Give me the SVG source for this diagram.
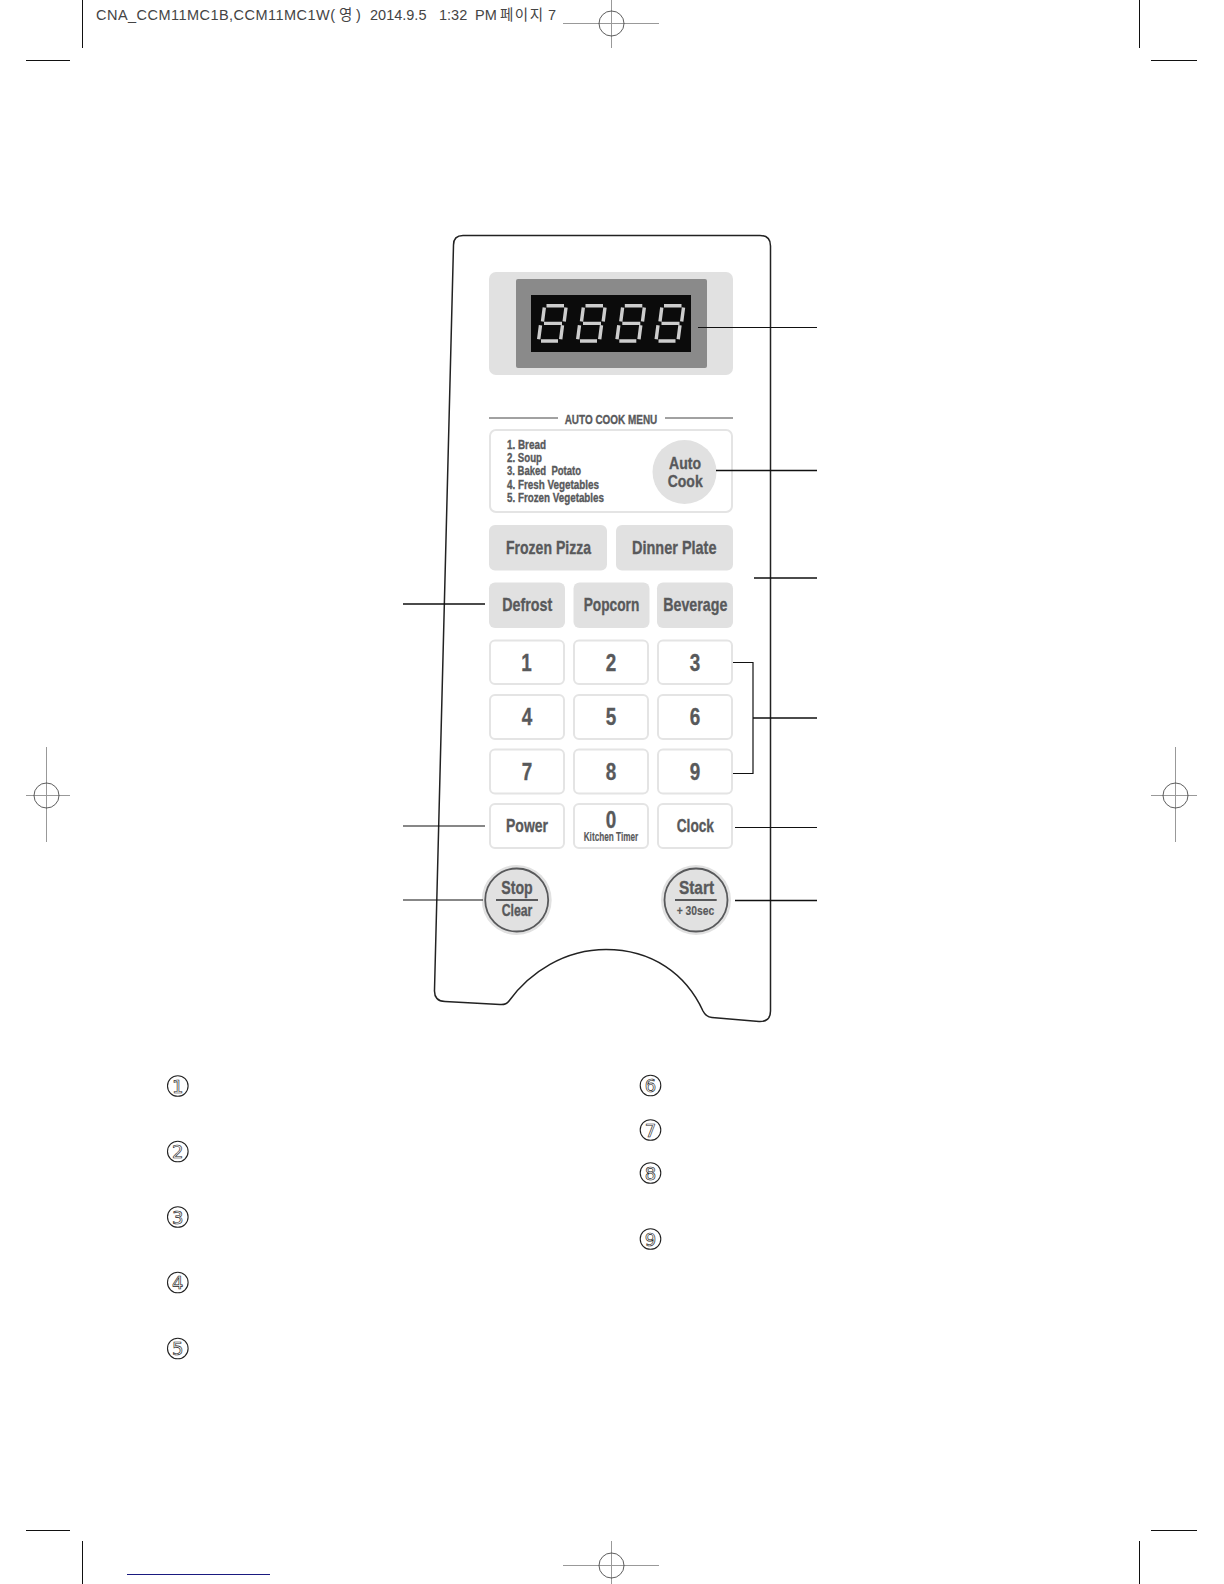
<svg xmlns="http://www.w3.org/2000/svg" width="1224" height="1584" viewBox="0 0 1224 1584">
<style>
.lb{font-family:"Liberation Sans",Arial,sans-serif;font-weight:700;fill:#58595b;stroke:#58595b;stroke-width:.35}
.f19{font-size:19px}.f24{font-size:24.5px}.f21{font-size:19px}.f17{font-size:17px}.f12{font-size:12.5px}
.solid{fill:#e1e1e1}
.out{fill:#fff;stroke:#e4e4e4;stroke-width:2}
.mark{stroke:#111;stroke-width:1;fill:none}
.reg{stroke:#999;stroke-width:1;fill:none}
.regc{stroke:#333;stroke-width:.8;fill:none}
.conn{stroke:#111;stroke-width:1.2;fill:none}
.conn2{stroke:#111;stroke-width:1.7;fill:none}
.num{font-family:"DejaVu Sans",sans-serif;font-size:18px;fill:#fff;stroke:#222;stroke-width:.65;text-anchor:middle}
.numc{fill:#fff;stroke:#222;stroke-width:1.100}
.seg{fill:none;stroke:#cdcdcd;stroke-width:3.400}
</style>
<defs>
<g id="reg"><circle class="regc" r="12.5"/></g>
<path id="digit" class="seg" d="M10 1.800H27.500M7.800 3.500L6 17.500M29.500 3.500L27.700 17.500M7.500 19.400H25.500M4 21.300L2.200 35.300M26 21.300L24.200 35.300M4.500 37H21.500"/>
</defs>
<rect width="1224" height="1584" fill="#fff"/>

<g id="print-marks">
<text x="96" y="20" font-family="'Liberation Sans','Noto Sans CJK KR',sans-serif" font-size="14.500" fill="#444"><tspan textLength="239" lengthAdjust="spacing">CNA_CCM11MC1B,CCM11MC1W(</tspan><tspan x="339">영</tspan><tspan x="356">)</tspan><tspan x="370">2014.9.5</tspan><tspan x="439">1:32</tspan><tspan x="475">PM</tspan><tspan x="500" textLength="43" lengthAdjust="spacing">페이지</tspan><tspan x="548">7</tspan></text>
<path class="mark" d="M82.500 0V48M26 60.500H70M1139.500 0V48M1151 60.500H1197M26 1530.500H70M82.500 1541V1584M1151 1530.500H1197M1139.500 1541V1584"/>
<path class="reg" d="M563 23.500H659M611.500 0V48M26 795.500H70M46.500 747V842M1151 795.500H1197M1175.500 747V842M563 1565.500H659M611.500 1541V1584"/>
<use href="#reg" x="611.500" y="23.500"/><use href="#reg" x="46.500" y="795.500"/><use href="#reg" x="1175.500" y="795.500"/><use href="#reg" x="611.500" y="1565.500"/>
<path d="M127 1574.500H270" stroke="#1a1a80" stroke-width="1" fill="none"/>
</g>

<g id="panel"><path d="M463 235.500H760Q770.500 235.500 770.500 246V1011Q770.500 1022 759 1021.500L712 1017.500Q706 1017 703 1011C686 974 652 949.500 606 949.500C565 949.500 530 972 509 1001Q506 1005 500 1004.500L445 1001.500Q434 1001 434.500 990L453.500 245Q453.500 235.500 463 235.500Z" fill="#fff" stroke="#222" stroke-width="1.500"/></g>

<g id="display">
<rect class="solid" x="489" y="272" width="244" height="103" rx="7"/>
<rect x="516" y="279" width="191" height="89" rx="2" fill="#8a8a8a"/>
<rect x="531" y="295" width="160" height="57" fill="#0b0b0b"/>
<use href="#digit" x="536.500" y="304"/><use href="#digit" x="575.500" y="304"/><use href="#digit" x="614.800" y="304"/><use href="#digit" x="654" y="304"/>
</g>

<g id="auto-cook-menu">
<path d="M489 418H558M665 418H733" stroke="#444" stroke-width="1" fill="none"/>
<text class="lb" x="564.700" y="424" font-size="13.500" textLength="92.600" lengthAdjust="spacingAndGlyphs">AUTO COOK MENU</text>
<rect class="out" x="490" y="430" width="242" height="82" rx="6"/>
<text class="lb f12" x="507" y="449" textLength="39" lengthAdjust="spacingAndGlyphs">1. Bread</text>
<text class="lb f12" x="507" y="462" textLength="35" lengthAdjust="spacingAndGlyphs">2. Soup</text>
<text class="lb f12" x="507" y="475.300" textLength="74" lengthAdjust="spacingAndGlyphs" xml:space="preserve">3. Baked  Potato</text>
<text class="lb f12" x="507" y="488.600" textLength="92" lengthAdjust="spacingAndGlyphs">4. Fresh Vegetables</text>
<text class="lb f12" x="507" y="502" textLength="97" lengthAdjust="spacingAndGlyphs">5. Frozen Vegetables</text>
</g>
<g id="btn-auto-cook"><circle class="solid" cx="684.500" cy="472" r="32"/>
<text class="lb f17" x="669" y="469" textLength="32" lengthAdjust="spacingAndGlyphs">Auto</text>
<text class="lb f17" x="667.700" y="487.200" textLength="35" lengthAdjust="spacingAndGlyphs">Cook</text></g>

<g id="btn-frozen-pizza"><rect class="solid" x="489" y="525" width="118" height="45.500" rx="6"/><text class="lb f19" x="506" y="554.300" textLength="85" lengthAdjust="spacingAndGlyphs">Frozen Pizza</text></g>
<g id="btn-dinner-plate"><rect class="solid" x="616" y="525" width="117" height="45.500" rx="6"/><text class="lb f19" x="632" y="554.300" textLength="84.500" lengthAdjust="spacingAndGlyphs">Dinner Plate</text></g>
<g id="btn-defrost"><rect class="solid" x="489" y="582.500" width="76" height="45.500" rx="6"/><text class="lb f19" x="502.300" y="611" textLength="50" lengthAdjust="spacingAndGlyphs">Defrost</text></g>
<g id="btn-popcorn"><rect class="solid" x="573.500" y="582.500" width="76" height="45.500" rx="6"/><text class="lb f19" x="583.700" y="611" textLength="55.600" lengthAdjust="spacingAndGlyphs">Popcorn</text></g>
<g id="btn-beverage"><rect class="solid" x="657" y="582.500" width="76" height="45.500" rx="6"/><text class="lb f19" x="663.300" y="611" textLength="64" lengthAdjust="spacingAndGlyphs">Beverage</text></g>

<g id="btn-1"><rect class="out" x="490" y="640.500" width="74" height="43.500" rx="5"/><text class="lb f24" x="521.300" y="671" textLength="10.500" lengthAdjust="spacingAndGlyphs">1</text></g>
<g id="btn-2"><rect class="out" x="574" y="640.500" width="74" height="43.500" rx="5"/><text class="lb f24" x="605.700" y="671" textLength="10.500" lengthAdjust="spacingAndGlyphs">2</text></g>
<g id="btn-3"><rect class="out" x="658" y="640.500" width="74" height="43.500" rx="5"/><text class="lb f24" x="689.700" y="671" textLength="10.500" lengthAdjust="spacingAndGlyphs">3</text></g>
<g id="btn-4"><rect class="out" x="490" y="695" width="74" height="44" rx="5"/><text class="lb f24" x="521.700" y="725" textLength="10.500" lengthAdjust="spacingAndGlyphs">4</text></g>
<g id="btn-5"><rect class="out" x="574" y="695" width="74" height="44" rx="5"/><text class="lb f24" x="605.700" y="725" textLength="10.500" lengthAdjust="spacingAndGlyphs">5</text></g>
<g id="btn-6"><rect class="out" x="658" y="695" width="74" height="44" rx="5"/><text class="lb f24" x="689.700" y="725" textLength="10.500" lengthAdjust="spacingAndGlyphs">6</text></g>
<g id="btn-7"><rect class="out" x="490" y="749.500" width="74" height="44" rx="5"/><text class="lb f24" x="521.700" y="779.500" textLength="10.500" lengthAdjust="spacingAndGlyphs">7</text></g>
<g id="btn-8"><rect class="out" x="574" y="749.500" width="74" height="44" rx="5"/><text class="lb f24" x="605.700" y="779.500" textLength="10.500" lengthAdjust="spacingAndGlyphs">8</text></g>
<g id="btn-9"><rect class="out" x="658" y="749.500" width="74" height="44" rx="5"/><text class="lb f24" x="689.700" y="779.500" textLength="10.500" lengthAdjust="spacingAndGlyphs">9</text></g>

<g id="btn-power"><rect class="out" x="490" y="804" width="74" height="44" rx="5"/><text class="lb f19" x="506" y="832.300" textLength="42" lengthAdjust="spacingAndGlyphs">Power</text></g>
<g id="btn-0"><rect class="out" x="574" y="804" width="74" height="44" rx="5"/><text class="lb f24" x="605.700" y="827.700" textLength="10.500" lengthAdjust="spacingAndGlyphs">0</text><text class="lb" x="583.700" y="841.300" font-size="12.500" textLength="54.600" lengthAdjust="spacingAndGlyphs" style="stroke-width:.15">Kitchen Timer</text></g>
<g id="btn-clock"><rect class="out" x="658" y="804" width="74" height="44" rx="5"/><text class="lb f19" x="676.700" y="832" textLength="37.300" lengthAdjust="spacingAndGlyphs">Clock</text></g>

<g id="btn-stop"><circle class="solid" cx="516.700" cy="900" r="35"/><circle cx="516.700" cy="900" r="31.500" fill="#e1e1e1" stroke="#58595b" stroke-width="1.800"/>
<text class="lb f21" x="501.300" y="894.300" textLength="31.400" lengthAdjust="spacingAndGlyphs">Stop</text>
<path d="M496 900H538" stroke="#58595b" stroke-width="1.800"/>
<text class="lb" x="501.700" y="916" font-size="16" textLength="30.600" lengthAdjust="spacingAndGlyphs">Clear</text></g>
<g id="btn-start"><circle class="solid" cx="696" cy="900" r="35"/><circle cx="696" cy="900" r="31.500" fill="#e1e1e1" stroke="#58595b" stroke-width="1.800"/>
<text class="lb f21" x="679" y="894.300" textLength="35" lengthAdjust="spacingAndGlyphs">Start</text>
<path d="M675 900H716.700" stroke="#58595b" stroke-width="1.800"/>
<text class="lb" x="676.700" y="915" font-size="13.500" textLength="37.600" lengthAdjust="spacingAndGlyphs" style="stroke-width:.15">+ 30sec</text></g>

<g id="connectors">
<path class="conn" d="M698 327.500H817M403 826H485M735 827.500H817M403 900H483M733 662.500H753V773.500H733"/>
<path class="conn2" d="M716 470.500H817M754 578H817M403 604H485M753 718H817M735 900.500H817"/>
</g>

<g id="n1"><circle class="numc" cx="177.800" cy="1086" r="10.300"/><text class="num" x="177.800" y="1092.500">1</text></g>
<g id="n2"><circle class="numc" cx="177.800" cy="1151.500" r="10.300"/><text class="num" x="177.800" y="1158">2</text></g>
<g id="n3"><circle class="numc" cx="177.800" cy="1217" r="10.300"/><text class="num" x="177.800" y="1223.500">3</text></g>
<g id="n4"><circle class="numc" cx="177.800" cy="1282.500" r="10.300"/><text class="num" x="177.800" y="1289">4</text></g>
<g id="n5"><circle class="numc" cx="177.800" cy="1348.500" r="10.300"/><text class="num" x="177.800" y="1355">5</text></g>
<g id="n6"><circle class="numc" cx="650.500" cy="1085.500" r="10.300"/><text class="num" x="650.500" y="1092">6</text></g>
<g id="n7"><circle class="numc" cx="650.500" cy="1130" r="10.300"/><text class="num" x="650.500" y="1136.500">7</text></g>
<g id="n8"><circle class="numc" cx="650.500" cy="1173" r="10.300"/><text class="num" x="650.500" y="1179.500">8</text></g>
<g id="n9"><circle class="numc" cx="650.500" cy="1239" r="10.300"/><text class="num" x="650.500" y="1245.500">9</text></g>
</svg>
